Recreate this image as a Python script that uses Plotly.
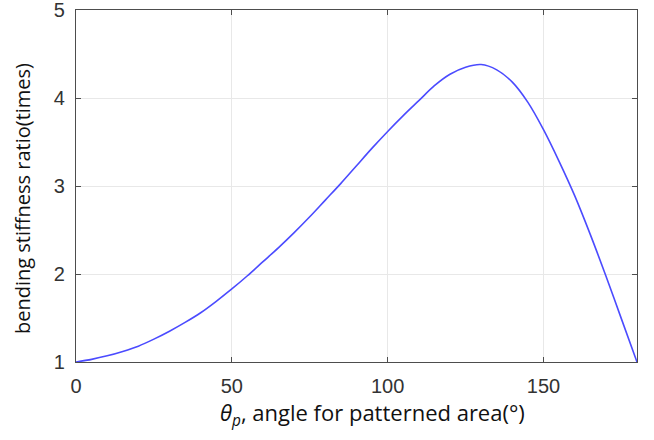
import plotly.graph_objects as go

theta = [0, 5, 10, 15, 20, 25, 30, 35, 40, 45, 50, 55, 60, 65, 70, 75, 80, 85, 90,
         95, 100, 105, 110, 115, 120, 125, 130, 135, 140, 145, 150, 155, 160, 165,
         170, 175, 180]
ratio = [1.00, 1.03, 1.07, 1.12, 1.18, 1.26, 1.35, 1.45, 1.56, 1.69, 1.83, 1.98,
         2.14, 2.30, 2.47, 2.65, 2.84, 3.03, 3.23, 3.43, 3.62, 3.80, 3.97, 4.14,
         4.27, 4.35, 4.38, 4.32, 4.18, 3.95, 3.64, 3.28, 2.89, 2.45, 1.98, 1.49, 1.00]

x_ticks = [0, 50, 100, 150]
y_ticks = [1, 2, 3, 4, 5]

fig = go.Figure()
fig.add_trace(go.Scatter(x=theta, y=ratio, mode="lines",
                         line=dict(color="#4b4bff", width=1.6, shape="spline", smoothing=0.9),
                         hoverinfo="skip", showlegend=False))

axis_common = dict(showline=True, linecolor="#4d4d4d", linewidth=1.2, mirror="ticks",
                   ticks="inside", ticklen=5, tickwidth=1, tickcolor="#4d4d4d",
                   showgrid=True, gridcolor="#e8e8e8", gridwidth=1, zeroline=False,
                   ticklabeloverflow="allow", automargin=False,
                   tickfont=dict(family="Liberation Sans, Arial", size=20, color="#333333"))

fig.update_xaxes(range=[0, 180.0001], tickvals=x_ticks, ticklabelstandoff=6, **axis_common)
fig.update_yaxes(range=[0.99999, 5.00001], tickvals=y_ticks, ticklabelstandoff=6, **axis_common)

fig.add_annotation(text="<i>θ</i><sub><i>p</i></sub>, angle for patterned area(°)",
                   xref="paper", yref="paper", x=0.529, y=-0.148, xanchor="center",
                   yanchor="middle", showarrow=False,
                   font=dict(family="Open Sans, Noto Sans", size=22, color="#111111"))
fig.add_annotation(text="bending stiffness ratio(times)",
                   xref="paper", yref="paper", x=-0.095, y=0.465, xanchor="center",
                   yanchor="middle", textangle=-90, showarrow=False,
                   font=dict(family="Open Sans, Noto Sans", size=20, color="#111111"))

fig.update_layout(width=654, height=440, margin=dict(l=76, r=17, t=10, b=78, autoexpand=False),
                  paper_bgcolor="white", plot_bgcolor="white")

fig.write_html("out.html")
